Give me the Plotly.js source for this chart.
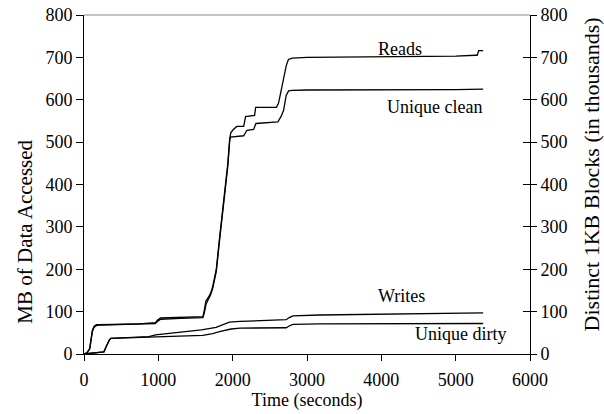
<!DOCTYPE html>
<html>
<head>
<meta charset="utf-8">
<script src="https://cdn.plot.ly/plotly-3.0.1.min.js"></script>
<style>html,body{margin:0;padding:0;background:#fff;}#chart{width:604px;height:414px;}</style>
</head>
<body>
<div id="chart"></div>
<script>
// Time (seconds) and MB values for each series
const readsT = [0, 40, 77, 90, 112, 135, 166, 200, 400, 742, 960, 990, 1030, 1300, 1580, 1600, 1620, 1640, 1670, 1700, 1730, 1780, 1820, 1870, 1935, 1960, 1975, 2000, 2054, 2148, 2160, 2174, 2295, 2305, 2309, 2590, 2617, 2650, 2685, 2720, 2750, 2800, 3000, 4000, 5000, 5262, 5290, 5310, 5370];
const readsMB = [0, 3, 13, 33, 55, 65, 69, 69, 70, 71, 74, 80, 85, 86, 87, 88, 105, 125, 133, 142, 158, 200, 268, 350, 450, 508, 522, 528, 537, 537, 550, 560, 563, 575, 582, 582, 592, 620, 648, 680, 695, 698, 700, 701, 703, 705, 705, 716, 716];

const cleanT = [0, 40, 77, 90, 112, 135, 166, 200, 400, 742, 960, 990, 1030, 1300, 1580, 1600, 1620, 1640, 1670, 1700, 1730, 1780, 1820, 1870, 1935, 1960, 1969, 2148, 2170, 2192, 2282, 2300, 2313, 2608, 2650, 2685, 2720, 2752, 2800, 3000, 4000, 5000, 5370];
const cleanMB = [0, 3, 12, 31, 53, 63, 67, 68, 69, 70, 72, 77, 82, 84, 85, 86, 98, 116, 128, 138, 154, 195, 262, 344, 444, 503, 512, 515, 522, 528, 530, 537, 544, 548, 560, 575, 610, 621, 622, 623, 623, 624, 625];

const writesT = [0, 100, 200, 268, 290, 315, 340, 360, 600, 872, 962, 1282, 1580, 1777, 1880, 1956, 2100, 2617, 2720, 2760, 2810, 3170, 4000, 5000, 5370];
const writesMB = [0, 2, 4, 5, 14, 25, 33, 37, 39, 41, 45, 51, 57, 63, 70, 75, 77, 80, 81, 86, 90, 92, 94, 96, 97];

const dirtyT = [0, 100, 200, 268, 290, 315, 340, 360, 600, 872, 962, 1282, 1597, 1731, 1822, 1978, 2100, 2720, 2760, 2810, 3170, 4000, 5000, 5370];
const dirtyMB = [0, 2, 4, 5, 14, 25, 33, 37, 38, 40, 41, 42, 44, 48, 53, 59, 61, 62, 66, 70, 71, 71, 72, 72];

const seriesNames = ["Reads", "Unique clean", "Writes", "Unique dirty"];
const xTicks = [0, 1000, 2000, 3000, 4000, 5000, 6000];
const yTicks = [0, 100, 200, 300, 400, 500, 600, 700, 800];

const FONT = '"Liberation Serif", "Times New Roman", Times, serif';
const lineStyle = {color: '#000', width: 1.3};

const traces = [
  {x: readsT, y: readsMB, name: seriesNames[0]},
  {x: cleanT, y: cleanMB, name: seriesNames[1]},
  {x: writesT, y: writesMB, name: seriesNames[2]},
  {x: dirtyT, y: dirtyMB, name: seriesNames[3]}
].map(t => Object.assign(t, {type: 'scatter', mode: 'lines', line: lineStyle, showlegend: false, xaxis: 'x', yaxis: 'y'}));

// the right-hand axis (thousands of 1KB blocks) shares the same scale; attach the
// unique-block series to it as invisible copies so the axis is drawn
traces.push({x: cleanT, y: cleanMB, type: 'scatter', mode: 'lines', line: {color: 'rgba(0,0,0,0)', width: 0}, showlegend: false, hoverinfo: 'skip', xaxis: 'x', yaxis: 'y2'});
traces.push({x: dirtyT, y: dirtyMB, type: 'scatter', mode: 'lines', line: {color: 'rgba(0,0,0,0)', width: 0}, showlegend: false, hoverinfo: 'skip', xaxis: 'x', yaxis: 'y3'});

const tickFont = {family: FONT, size: 18, color: '#000'};

const layout = {
  width: 604, height: 414,
  margin: {l: 84, r: 74, t: 15, b: 60},
  paper_bgcolor: '#fff', plot_bgcolor: '#fff',
  showlegend: false,
  font: {family: FONT, size: 18, color: '#000'},
  xaxis: {
    range: [0, 6000], tickvals: xTicks, ticktext: xTicks.map(String),
    ticks: 'outside', ticklen: 6, tickwidth: 1, tickcolor: '#000',
    ticklabelstandoff: 3,
    showline: true, linecolor: '#000', linewidth: 1,
    showgrid: false, zeroline: false, tickfont: tickFont,
    title: {text: 'Time (seconds)', font: {family: FONT, size: 18, color: '#000'}, standoff: 3}
  },
  yaxis: {
    range: [0, 800], tickvals: yTicks, ticktext: yTicks.map(String),
    ticks: 'outside', ticklen: 7, tickwidth: 1, tickcolor: '#000',
    showline: true, linecolor: '#000', linewidth: 1,
    showgrid: false, zeroline: false, tickfont: tickFont
  },
  yaxis2: {
    overlaying: 'y', side: 'right', anchor: 'x',
    range: [0, 800], tickvals: yTicks, ticktext: yTicks.map(String),
    ticks: 'outside', ticklen: 6, tickwidth: 1, tickcolor: '#000',
    showline: true, linecolor: '#000', linewidth: 1,
    showgrid: false, zeroline: false, tickfont: tickFont
  },
  yaxis3: {
    overlaying: 'y', side: 'right', anchor: 'x',
    range: [0, 800], tickvals: yTicks,
    ticks: 'inside', ticklen: 7, tickwidth: 1, tickcolor: '#000',
    showline: false, showticklabels: false,
    showgrid: false, zeroline: false
  },
  shapes: [
    {type: 'line', xref: 'paper', yref: 'paper', x0: 0, x1: 1, y0: 1, y1: 1, line: {color: '#8a8a8a', width: 1}}
  ],
  annotations: [
    {text: 'MB of Data Accessed', xref: 'paper', yref: 'paper', x: -0.133, y: 0.36, textangle: -90, showarrow: false, xanchor: 'center', yanchor: 'middle', font: {family: FONT, size: 21, color: '#000'}},
    {text: 'Distinct 1KB Blocks (in thousands)', xref: 'paper', yref: 'paper', x: 1.137, y: 0.53, textangle: -90, showarrow: false, xanchor: 'center', yanchor: 'middle', font: {family: FONT, size: 22, color: '#000'}},
    {text: seriesNames[0], x: 4255, y: 720, xref: 'x', yref: 'y', showarrow: false, font: {family: FONT, size: 18, color: '#000'}},
    {text: seriesNames[1], x: 4713, y: 583, xref: 'x', yref: 'y', showarrow: false, font: {family: FONT, size: 18, color: '#000'}},
    {text: seriesNames[2], x: 4268, y: 137, xref: 'x', yref: 'y', showarrow: false, font: {family: FONT, size: 18, color: '#000'}},
    {text: seriesNames[3], x: 5077, y: 47, xref: 'x', yref: 'y', showarrow: false, font: {family: FONT, size: 18, color: '#000'}}
  ]
};

Plotly.newPlot('chart', traces, layout, {staticPlot: true, displayModeBar: false});
</script>
</body>
</html>
